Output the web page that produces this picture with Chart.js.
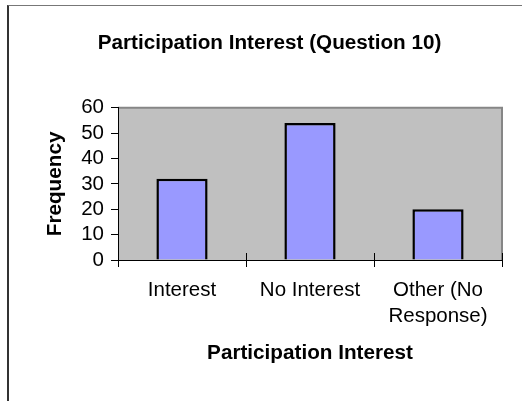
<!DOCTYPE html>
<html>
<head>
<meta charset="utf-8">
<script src="https://cdn.jsdelivr.net/npm/chart.js@4.4.0/dist/chart.umd.min.js"></script>
<style>
  html, body { margin: 0; padding: 0; background: #ffffff; }
  #wrap { position: relative; width: 522px; height: 401px; overflow: hidden; }
  #frame { position: absolute; left: 7px; top: 5px; width: 600px; height: 500px;
           border-left: 2px solid #333333; border-top: 1px solid #777777; }
  #c { position: absolute; left: 0; top: 0; }
</style>
</head>
<body>
<div id="wrap">
  <div id="frame"></div>
  <canvas id="c" width="522" height="401"></canvas>
</div>
<script>
const categories = ["Interest", "No Interest", ["Other (No", "Response)"]];
const frequency = [32, 54, 20];
const yTicks = [0, 10, 20, 30, 40, 50, 60];
const chartTitle = "Participation Interest (Question 10)";
const xTitle = "Participation Interest";
const yTitle = "Frequency";

const FONT = "'Liberation Sans', Arial, sans-serif";

const plotBg = {
  id: 'plotBg',
  beforeDraw(chart) {
    const {ctx, chartArea: a} = chart;
    ctx.save();
    ctx.fillStyle = '#c0c0c0';
    ctx.fillRect(a.left, a.top, a.right - a.left, a.bottom - a.top);
    ctx.strokeStyle = '#868686';
    ctx.lineWidth = 2;
    ctx.beginPath();
    ctx.moveTo(a.left, a.top);
    ctx.lineTo(a.right, a.top);
    ctx.lineTo(a.right, a.bottom);
    ctx.stroke();
    ctx.restore();
  },
  afterDraw(chart) {
    const {ctx, chartArea: a} = chart;
    const xs = chart.scales.x;
    ctx.save();
    ctx.strokeStyle = '#000000';
    ctx.lineWidth = 1;
    ctx.beginPath();
    for (let i = 0; i <= categories.length; i++) {
      const x = Math.round(xs.getPixelForValue(i - 0.5)) + 0.5;
      ctx.moveTo(x, a.bottom - 7);
      ctx.lineTo(x, a.bottom);
    }
    ctx.stroke();
    ctx.restore();
  }
};

new Chart(document.getElementById('c'), {
  type: 'bar',
  data: {
    labels: categories,
    datasets: [{
      data: frequency,
      backgroundColor: '#9999ff',
      borderColor: '#000000',
      borderWidth: 2.5,
      barPercentage: 0.4,
      categoryPercentage: 1.0
    }]
  },
  options: {
    responsive: false,
    animation: false,
    devicePixelRatio: 1,
    layout: { padding: { left: 37, right: 20, top: 0, bottom: 0 } },
    plugins: {
      legend: { display: false },
      tooltip: { enabled: false },
      title: {
        display: true,
        text: chartTitle,
        color: '#000000',
        font: { family: FONT, size: 20.7, weight: 'bold', lineHeight: 1.2 },
        padding: { top: 31, bottom: 52 }
      }
    },
    scales: {
      x: {
        afterFit(s) { s.height = 141; },
        grid: { drawOnChartArea: false, offset: true, tickLength: 7, color: '#000000', tickColor: '#000000' },
        border: { color: '#000000', width: 1 },
        ticks: {
          color: '#000000', padding: 10, maxRotation: 0, autoSkip: false,
          font: { family: FONT, size: 20.5, lineHeight: 1.27 }
        },
        title: {
          display: true, text: xTitle, color: '#000000',
          font: { family: FONT, size: 20.7, weight: 'bold', lineHeight: 1.2 },
          padding: { top: 0, bottom: 35 }
        }
      },
      y: {
        min: 0, max: 60,
        afterFit(s) { s.width = 81; },
        afterBuildTicks(s) { s.ticks = yTicks.map(v => ({ value: v })); },
        grid: { drawOnChartArea: false, tickLength: 7, color: '#000000', tickColor: '#000000' },
        border: { color: '#000000', width: 1 },
        ticks: {
          color: '#000000', padding: 7, autoSkip: false,
          font: { family: FONT, size: 20.5 }
        },
        title: {
          display: true, text: yTitle, color: '#000000',
          font: { family: FONT, size: 20.7, weight: 'bold', lineHeight: 1.2 },
          padding: { top: 6, bottom: 0 }
        }
      }
    }
  },
  plugins: [plotBg]
});
</script>
</body>
</html>
